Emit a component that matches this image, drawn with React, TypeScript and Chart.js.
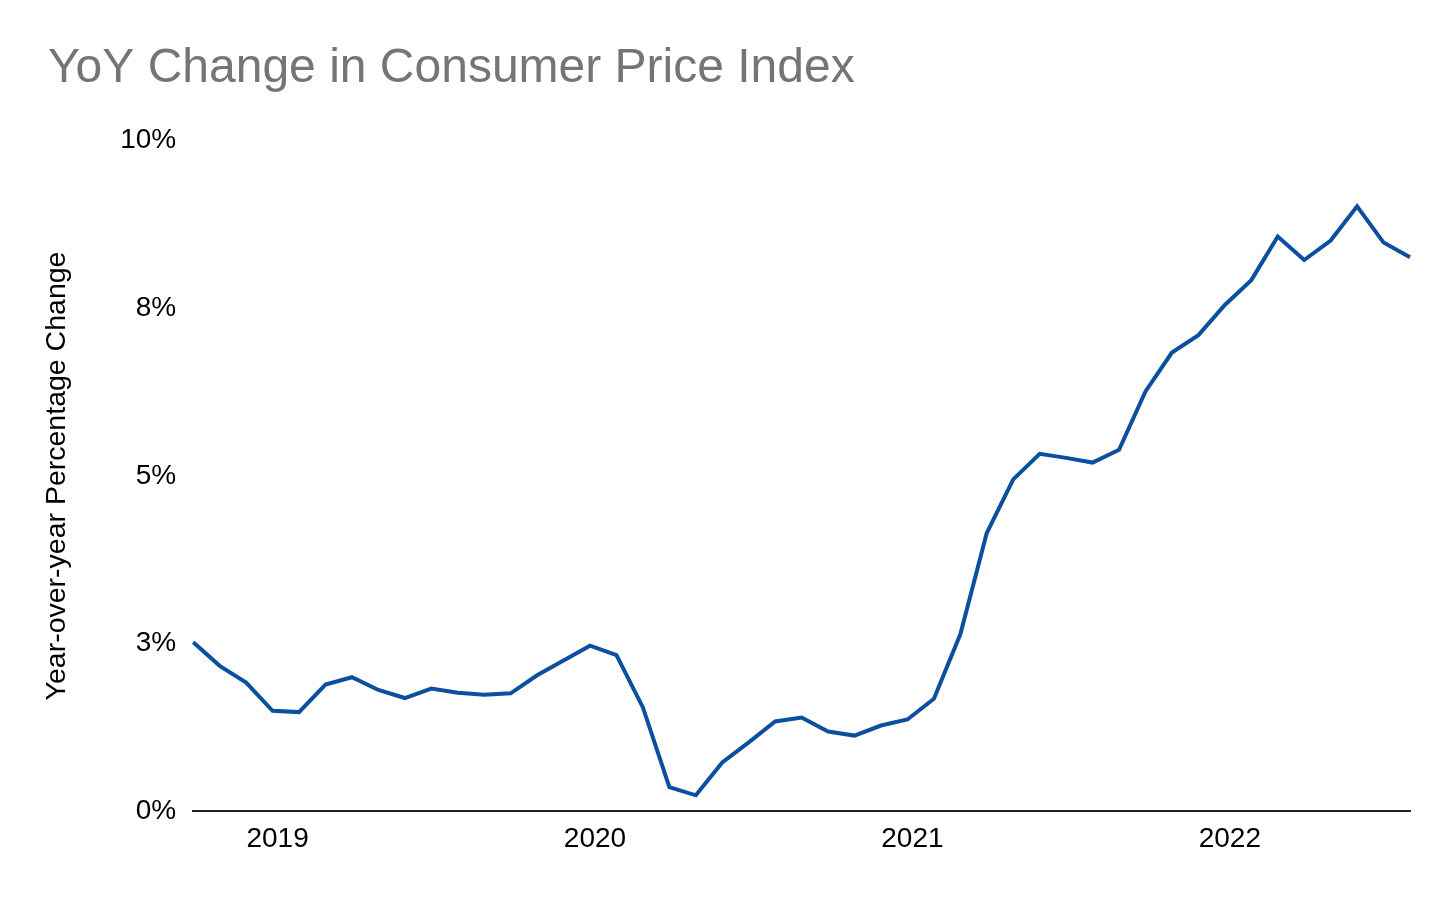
import React, { useEffect, useRef } from "react";
import { Chart, registerables } from "chart.js";

Chart.register(...registerables);

const months: string[] = [
  "2018-10", "2018-11", "2018-12",
  "2019-01", "2019-02", "2019-03", "2019-04", "2019-05", "2019-06", "2019-07", "2019-08", "2019-09", "2019-10", "2019-11", "2019-12",
  "2020-01", "2020-02", "2020-03", "2020-04", "2020-05", "2020-06", "2020-07", "2020-08", "2020-09", "2020-10", "2020-11", "2020-12",
  "2021-01", "2021-02", "2021-03", "2021-04", "2021-05", "2021-06", "2021-07", "2021-08", "2021-09", "2021-10", "2021-11", "2021-12",
  "2022-01", "2022-02", "2022-03", "2022-04", "2022-05", "2022-06", "2022-07", "2022-08",
];

const cpiYoY: number[] = [
  2.52, 2.17, 1.92,
  1.5, 1.48, 1.89, 2.0, 1.81, 1.69, 1.83, 1.77, 1.74, 1.76, 2.03, 2.25,
  2.47, 2.33, 1.55, 0.36, 0.24, 0.73, 1.03, 1.34, 1.4, 1.19, 1.13, 1.28,
  1.37, 1.68, 2.64, 4.15, 4.95, 5.33, 5.27, 5.2, 5.39, 6.26, 6.84, 7.1,
  7.55, 7.92, 8.57, 8.22, 8.51, 9.02, 8.48, 8.26,
];

const yTickValues: number[] = [0, 2.5, 5, 7.5, 10];

const FONT = "'Liberation Sans', Arial, Helvetica, sans-serif";

export default function App() {
  const canvasRef = useRef<HTMLCanvasElement | null>(null);

  useEffect(() => {
    if (!canvasRef.current) return;
    const chart = new Chart(canvasRef.current, {
      type: "line",
      data: {
        labels: months,
        datasets: [
          {
            label: "CPI YoY",
            data: cpiYoY,
            borderColor: "#0d4f9f",
            backgroundColor: "#0d4f9f",
            borderWidth: 4,
            pointRadius: 0,
            pointHoverRadius: 0,
            tension: 0,
            fill: false,
          },
        ],
      },
      options: {
        animation: false,
        responsive: true,
        maintainAspectRatio: false,
        layout: { padding: { left: 48, right: 46, top: 10, bottom: 33 } },
        plugins: {
          legend: { display: false },
          tooltip: { enabled: false },
          title: {
            display: true,
            text: "YoY Change in Consumer Price Index",
            align: "start",
            color: "#757575",
            font: { family: FONT, size: 48, weight: "normal" },
            padding: { top: 30, bottom: 43 },
          },
        },
        scales: {
          x: {
            type: "category",
            grid: { display: false, drawTicks: false },
            border: { display: true, color: "#222222", width: 2 },
            ticks: {
              autoSkip: false,
              maxRotation: 0,
              minRotation: 0,
              padding: 11,
              labelOffset: 5,
              color: "#000000",
              font: { family: FONT, size: 28 },
              callback: (_v: any, i: number) =>
                months[i].endsWith("-01") ? months[i].slice(0, 4) : "",
            },
          },
          y: {
            min: 0,
            max: 10,
            afterBuildTicks: (axis: any) => {
              axis.ticks = yTickValues.map((v) => ({ value: v }));
            },
            grid: { display: false, drawTicks: false },
            border: { display: false },
            ticks: {
              padding: 17,
              color: "#000000",
              font: { family: FONT, size: 28 },
              callback: (v: any) => Math.round(Number(v)) + "%",
            },
            title: {
              display: true,
              text: "Year-over-year Percentage Change",
              color: "#000000",
              font: { family: FONT, size: 28.5 },
              padding: { top: -8, bottom: 29 },
            },
          },
        },
      },
    });
    return () => chart.destroy();
  }, []);

  return (
    <div
      style={{
        position: "absolute",
        left: 0,
        top: 0,
        width: 1456,
        height: 900,
        background: "#ffffff",
      }}
    >
      <canvas ref={canvasRef} />
    </div>
  );
}
